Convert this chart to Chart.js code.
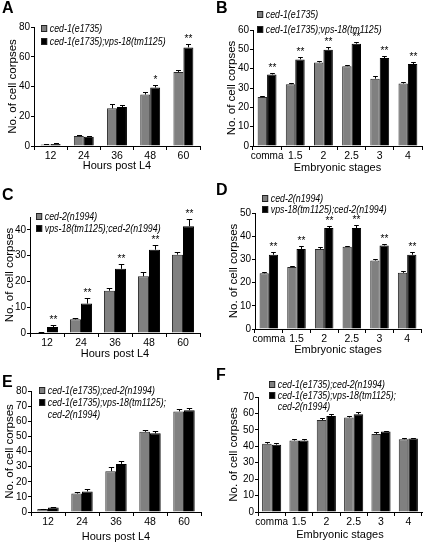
<!DOCTYPE html>
<html>
<head>
<meta charset="utf-8">
<script src="https://cdn.jsdelivr.net/npm/chart.js@4.4.1/dist/chart.umd.min.js"></script>
<style>
  body { margin: 0; background: #fff; width: 429px; height: 544px; position: relative; overflow: hidden;
         font-family: "Liberation Sans", Arial, sans-serif; color: #000; }
  canvas { position: absolute; }
  .letter { position: absolute; font-weight: bold; font-size: 16px; line-height: 16px; }
  .leg { position: absolute; font-style: italic; font-size: 10px; white-space: nowrap;
         transform: scaleX(0.88); transform-origin: 0 0; }
  .leg .sw { display: inline-block; width: 5px; height: 5px; border: 1px solid #222; margin-right: 3px; vertical-align: 0px; }
  .leg .pad { display: inline-block; width: 10px; }
</style>
</head>
<body>
<canvas id="cA"></canvas><canvas id="cB"></canvas>
<canvas id="cC"></canvas><canvas id="cD"></canvas>
<canvas id="cE"></canvas><canvas id="cF"></canvas>
<script>
const hourLabels = ["12", "24", "36", "48", "60"];
const stageLabels = ["comma", "1.5", "2", "2.5", "3", "4"];

// A: hours post L4, ced-1 vs ced-1;vps-18
const aGray = [1.0, 6.7, 25.3, 34.6, 49.8];
const aGrayErr = [0.3, 0.8, 3.0, 1.5, 1.5];
const aBlack = [1.4, 6.2, 26.2, 39.3, 66.3];
const aBlackErr = [0.3, 0.5, 1.2, 2.0, 2.0];
const aStars = ["", "", "", "*", "**"];

// B: embryonic stages
const bGray = [25.3, 32.0, 43.2, 41.3, 34.8, 32.3];
const bGrayErr = [0.7, 0.7, 0.7, 0.8, 1.3, 0.6];
const bBlack = [37.0, 44.8, 49.8, 52.9, 45.5, 42.4];
const bBlackErr = [0.8, 1.2, 1.5, 0.8, 1.2, 1.2];
const bStars = ["**", "**", "**", "**", "**", "**"];

// C
const cGray = [0.3, 5.3, 16.4, 22.0, 30.4];
const cGrayErr = [0.2, 0.7, 1.0, 1.8, 1.2];
const cBlack = [2.3, 11.4, 24.9, 32.3, 41.4];
const cBlackErr = [0.8, 2.0, 1.9, 1.8, 2.7];
const cStars = ["**", "**", "**", "**", "**"];

// D
const dGray = [24.0, 26.7, 34.5, 35.5, 29.5, 24.2];
const dGrayErr = [0.6, 0.3, 0.7, 0.3, 0.7, 0.7];
const dBlack = [32.0, 34.5, 43.5, 43.5, 36.0, 32.0];
const dBlackErr = [1.2, 1.3, 0.9, 1.2, 0.8, 1.2];
const dStars = ["**", "**", "**", "**", "**", "**"];

// E
const eGray = [2.0, 12.2, 27.0, 53.0, 66.5];
const eGrayErr = [0.3, 1.3, 3.0, 1.3, 1.6];
const eBlack = [2.9, 13.6, 31.8, 52.0, 67.3];
const eBlackErr = [0.4, 1.3, 2.2, 1.8, 1.2];

// F
const fGray = [41.5, 43.5, 56.0, 57.5, 47.5, 44.3];
const fGrayErr = [1.0, 1.0, 1.5, 0.8, 1.0, 0.5];
const fBlack = [41.0, 43.5, 58.5, 59.5, 49.0, 44.8];
const fBlackErr = [1.0, 1.0, 1.0, 1.5, 0.5, 0.5];

const ced1 = ["ced-1(e1735)", "ced-1(e1735);vps-18(tm1125)"];
const ced2 = ["ced-2(n1994)", "vps-18(tm1125);ced-2(n1994)"];
const ced12 = ["ced-1(e1735);ced-2(n1994)", "ced-1(e1735);vps-18(tm1125);|ced-2(n1994)"];

Chart.defaults.font.family = '"Liberation Sans", Arial, sans-serif';
Chart.defaults.color = "#000";
Chart.defaults.animation = false;

// one-sided error bars and significance stars
const errorBars = {
  id: "errorBars",
  afterDatasetsDraw(chart) {
    const ctx = chart.ctx;
    const y = chart.scales.y;
    ctx.save();
    ctx.strokeStyle = "#000";
    ctx.fillStyle = "#000";
    ctx.lineWidth = 1;
    ctx.font = '10px "Liberation Sans", Arial, sans-serif';
    ctx.textAlign = "center";
    ctx.textBaseline = "bottom";
    chart.data.datasets.forEach((ds, i) => {
      chart.getDatasetMeta(i).data.forEach((bar, j) => {
        const top = Math.round(y.getPixelForValue(ds.data[j] + ds.errors[j])) + 0.5;
        const x = Math.round(bar.x) + 0.5;
        const half = bar.width * 0.25;
        ctx.beginPath();
        ctx.moveTo(x, bar.y);
        ctx.lineTo(x, top);
        ctx.moveTo(x - half, top);
        ctx.lineTo(x + half, top);
        ctx.stroke();
        if (ds.stars && ds.stars[j]) ctx.fillText(ds.stars[j], x, top);
      });
    });
    ctx.restore();
  }
};

function panel(p) {
  const [bx, by, bw, bh] = p.box;
  const [left, top, right, bottom] = p.area;
  const cv = document.getElementById(p.id);
  cv.width = bw; cv.height = bh;
  cv.style.left = bx + "px"; cv.style.top = by + "px";

  const letter = document.createElement("div");
  letter.className = "letter";
  letter.textContent = p.letter;
  letter.style.left = p.letterPos[0] + "px";
  letter.style.top = p.letterPos[1] + "px";
  document.body.appendChild(letter);

  const leg = document.createElement("div");
  leg.className = "leg";
  leg.style.left = p.legPos[0] + "px";
  leg.style.top = p.legPos[1] + "px";
  ["#808080", "#000"].forEach((c, k) => {
    p.legend[k].split("|").forEach((line, n) => {
      const row = document.createElement("div");
      row.style.height = p.legStep + "px";
      row.style.lineHeight = p.legStep + "px";
      row.innerHTML = (n === 0 ? '<span class="sw" style="background:' + c + '"></span>' : '<span class="pad"></span>') + line;
      leg.appendChild(row);
    });
  });
  document.body.appendChild(leg);

  new Chart(cv, {
    type: "bar",
    data: {
      labels: p.labels,
      datasets: [
        { label: p.legend[0], data: p.gray, errors: p.grayErr, backgroundColor: "#808080",
          borderColor: "#2a2a2a", borderWidth: 1 },
        { label: p.legend[1].replace("|", " "), data: p.black, errors: p.blackErr, stars: p.stars,
          backgroundColor: "#000", borderColor: "#000", borderWidth: 1 }
      ]
    },
    options: {
      responsive: false,
      layout: { padding: { left: 0, top: top - by, right: bx + bw - right, bottom: 0 } },
      datasets: { bar: { categoryPercentage: p.catPct, barPercentage: 1.0 } },
      plugins: { legend: { display: false }, tooltip: { enabled: false } },
      scales: {
        x: {
          grid: { drawOnChartArea: false, tickLength: 4, color: "#000", offset: true },
          border: { color: "#000", width: 1 },
          ticks: { padding: 0, color: "#000", maxRotation: 0, minRotation: 0, autoSkip: false,
                   font: c => ({ size: c.tick && c.tick.label === "comma" ? 10 : 10.5 }) },
          title: { display: true, text: p.xTitle, font: { size: 11 },
                   padding: { top: 0, bottom: by + bh - p.xTitleY - 6.6 } },
          afterFit: s => { s.height = by + bh - bottom; }
        },
        y: {
          min: 0, max: p.yMax,
          grid: { drawOnChartArea: false, tickLength: 3, color: "#000" },
          border: { color: "#000", width: 1 },
          ticks: { stepSize: p.yStep, font: { size: 10 }, padding: 1, color: "#000" },
          title: { display: true, text: "No. of cell corpses", font: { size: 11.5 },
                   padding: { top: p.yTitleX - bx - 6.9, bottom: 0 } },
          afterFit: s => { s.width = left - bx; }
        }
      }
    },
    plugins: [errorBars]
  });
}

panel({ id: "cA", letter: "A", box: [0, 0, 214, 180], area: [34, 27, 200, 146], letterPos: [2, 0],
  labels: hourLabels, gray: aGray, grayErr: aGrayErr, black: aBlack, blackErr: aBlackErr, stars: aStars,
  yMax: 80, yStep: 10, xTitle: "Hours post L4", xTitleY: 166, yTitleX: 13, catPct: 0.6,
  legend: ced1, legPos: [41, 22], legStep: 13 });

panel({ id: "cB", letter: "B", box: [214, 0, 215, 180], area: [253, 30, 422, 146], letterPos: [216, 0],
  labels: stageLabels, gray: bGray, grayErr: bGrayErr, black: bBlack, blackErr: bBlackErr, stars: bStars,
  yMax: 60, yStep: 10, xTitle: "Embryonic stages", xTitleY: 168, yTitleX: 232, catPct: 0.67,
  legend: ced1, legPos: [257, 7], legStep: 15 });

panel({ id: "cC", letter: "C", box: [0, 180, 214, 190], area: [30, 217, 200, 333], letterPos: [2, 187],
  labels: hourLabels, gray: cGray, grayErr: cGrayErr, black: cBlack, blackErr: cBlackErr, stars: cStars,
  yMax: 45, yStep: 5, xTitle: "Hours post L4", xTitleY: 354, yTitleX: 10, catPct: 0.65,
  legend: ced2, legPos: [36, 211], legStep: 12 });

panel({ id: "cD", letter: "D", box: [214, 180, 215, 190], area: [255, 213, 421, 329], letterPos: [216, 182],
  labels: stageLabels, gray: dGray, grayErr: dGrayErr, black: dBlack, blackErr: dBlackErr, stars: dStars,
  yMax: 50, yStep: 10, xTitle: "Embryonic stages", xTitleY: 350, yTitleX: 234, catPct: 0.67,
  legend: ced2, legPos: [262, 193], legStep: 11 });

panel({ id: "cE", letter: "E", box: [0, 370, 214, 174], area: [31, 391, 201, 512], letterPos: [2, 374],
  labels: hourLabels, gray: eGray, grayErr: eGrayErr, black: eBlack, blackErr: eBlackErr, stars: null,
  yMax: 80, yStep: 10, xTitle: "Hours post L4", xTitleY: 537, yTitleX: 10, catPct: 0.63,
  legend: ced12, legPos: [39, 385], legStep: 12 });

panel({ id: "cF", letter: "F", box: [214, 370, 215, 174], area: [258, 397, 422, 512], letterPos: [216, 367],
  labels: stageLabels, gray: fGray, grayErr: fGrayErr, black: fBlack, blackErr: fBlackErr, stars: null,
  yMax: 70, yStep: 10, xTitle: "Embryonic stages", xTitleY: 535, yTitleX: 234, catPct: 0.7,
  legend: ced12, legPos: [269, 379], legStep: 11 });
</script>
</body>
</html>
